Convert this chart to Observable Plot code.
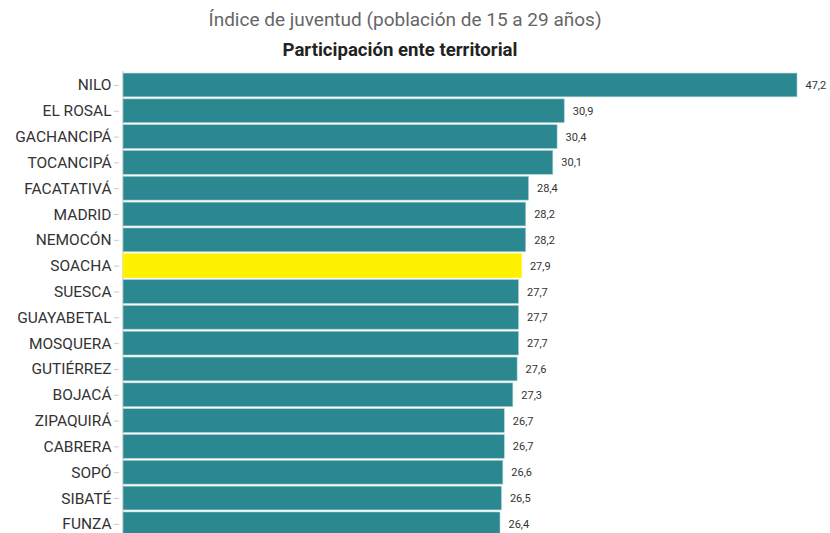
<!DOCTYPE html>
<html>
<head>
<meta charset="utf-8">
<script src="https://cdn.jsdelivr.net/npm/d3@7"></script>
<script src="https://cdn.jsdelivr.net/npm/@observablehq/plot@0.6"></script>
<style>
  html, body { margin: 0; padding: 0; overflow: hidden; background: #fff; }
  body { width: 830px; height: 533px; font-family: Roboto, "Noto Sans", sans-serif; }
  #title { position: absolute; top: 8px; left: 0; width: 810px; text-align: center; font-size: 19px; line-height: 24px; color: #666; }
  #subtitle { position: absolute; top: 38px; left: 0; width: 800px; text-align: center; font-size: 18.6px; line-height: 24px; font-weight: bold; color: #222; }
  #chart { position: absolute; top: 61px; left: 0; }
</style>
</head>
<body>
<div id="title">Índice de juventud (población de 15 a 29 años)</div>
<div id="subtitle">Participación ente territorial</div>
<div id="chart"></div>
<script>
const municipios = ["NILO","EL ROSAL","GACHANCIPÁ","TOCANCIPÁ","FACATATIVÁ","MADRID","NEMOCÓN","SOACHA","SUESCA","GUAYABETAL","MOSQUERA","GUTIÉRREZ","BOJACÁ","ZIPAQUIRÁ","CABRERA","SOPÓ","SIBATÉ","FUNZA"];
const valores = [47.2,30.9,30.4,30.1,28.4,28.2,28.2,27.9,27.7,27.7,27.7,27.6,27.3,26.7,26.7,26.6,26.5,26.4];
const destacado = "SOACHA";

const data = municipios.map((m, i) => ({municipio: m, valor: valores[i]}));
const fmt = v => v.toFixed(1).replace(".", ",");

const chart = Plot.plot({
  width: 830,
  height: 478,
  marginLeft: 123,
  marginRight: 33,
  marginTop: 10,
  marginBottom: 1.2,
  style: {fontFamily: "Roboto, 'Noto Sans', sans-serif", background: "#fff"},
  x: {domain: [0, 47.2], axis: null},
  y: {domain: municipios, padding: 0.08, round: false, label: null},
  marks: [
    Plot.ruleX([0], {stroke: "#d9d9d9", strokeWidth: 1.5, dx: -0.5}),
    Plot.barX(data, {
      y: "municipio", x: "valor",
      fill: d => d.municipio === destacado ? "#fff200" : "#2b8890",
      stroke: d => d.municipio === destacado ? "#fff200" : "#a9cfd2",
      strokeWidth: 0.6
    }),
    Plot.text(data, {
      y: "municipio", x: "valor", text: d => fmt(d.valor),
      textAnchor: "start", dx: 8, fontSize: 11, fill: "#333"
    }),
    Plot.axisY({tickSize: 5, tickPadding: 3, dx: -4, fontSize: 15.5, color: "#333", stroke: "#ccc", label: null})
  ]
});
chart.querySelectorAll('[aria-label="y-axis tick"] path').forEach(p => p.setAttribute("stroke", "#ccc"));
document.getElementById("chart").appendChild(chart);
</script>
</body>
</html>
